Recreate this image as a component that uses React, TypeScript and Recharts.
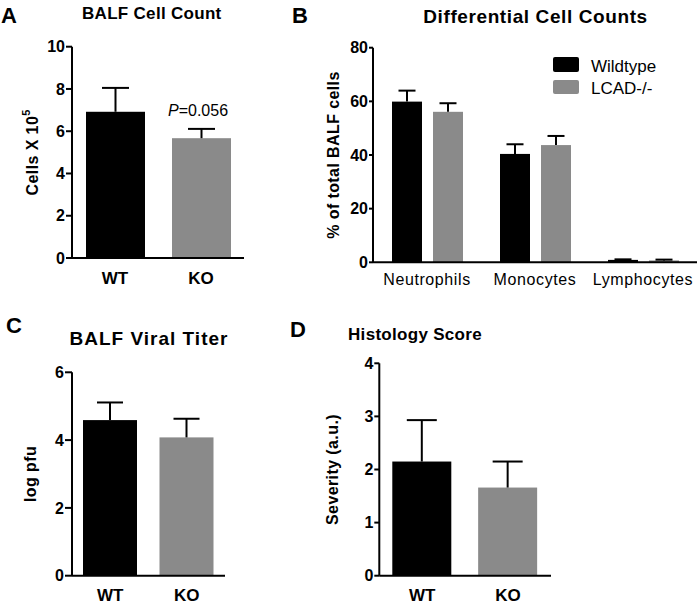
import React from 'react';
import { BarChart, Bar, XAxis, YAxis } from 'recharts';

const FONT = '"Liberation Sans", Arial, Helvetica, sans-serif';
const BLACK = '#000000';
const GREY = '#8a8a8a';

// A: BALF cell count
const aGroups = ['WT', 'KO'];
const aMeans = [6.92, 5.67];
const aSems = [1.13, 0.44];
const aTicks = [0, 2, 4, 6, 8, 10];

// B: differential cell counts
const bCells = ['Neutrophils', 'Monocytes', 'Lymphocytes'];
const bWildtype = [59.9, 40.4, 0.9];
const bWildtypeSem = [4.1, 3.6, 0.2];
const bLcad = [56.1, 43.7, 0.7];
const bLcadSem = [3.2, 3.4, 0.3];
const bTicks = [0, 20, 40, 60, 80];

// C: viral titer
const cGroups = ['WT', 'KO'];
const cMeans = [4.59, 4.08];
const cSems = [0.52, 0.55];
const cTicks = [0, 2, 4, 6];

// D: histology
const dGroups = ['WT', 'KO'];
const dMeans = [2.15, 1.66];
const dSems = [0.78, 0.49];
const dTicks = [0, 1, 2, 3, 4];

const groupColors = [BLACK, GREY];

// bar + upper error whisker, whisker length taken from the bar's own px/unit
function errorBarShape(meanKey: string, semKey: string, cap: number, colors: string[]) {
  return (props: any) => {
    const { x, y, width, height, index, payload } = props;
    const mean = payload[meanKey];
    const sem = payload[semKey];
    const perUnit = mean ? height / mean : 0;
    const cx = x + width / 2;
    const top = y - sem * perUnit;
    return (
      <g>
        <rect x={x} y={y} width={width} height={height} fill={colors[index % colors.length]} />
        <line x1={cx} x2={cx} y1={y} y2={top} stroke={BLACK} strokeWidth={2} />
        <line x1={cx - cap / 2} x2={cx + cap / 2} y1={top} y2={top} stroke={BLACK} strokeWidth={2} />
      </g>
    );
  };
}

function YTitle({ viewBox, x, text, sup, size = 16 }: any) {
  const cy = viewBox ? viewBox.y + viewBox.height / 2 : 150;
  return (
    <text
      x={x}
      y={cy}
      transform={`rotate(-90 ${x} ${cy})`}
      textAnchor="middle"
      dominantBaseline="central"
      fontFamily={FONT}
      fontWeight={700}
      fontSize={size}
      letterSpacing={0.4}
      fill={BLACK}
    >
      {text}
      {sup ? (
        <tspan dy={-7} fontSize={11}>
          {sup}
        </tspan>
      ) : null}
    </text>
  );
}

const axisLine = { stroke: BLACK, strokeWidth: 2 };
const boldTick = { fill: BLACK, fontSize: 16, fontWeight: 700, fontFamily: FONT };

interface PanelProps {
  groups: string[];
  means: number[];
  sems: number[];
  ticks: number[];
  width: number;
  height: number;
  top: number;
  right: number;
  yWidth: number;
  xHeight: number;
  barSize: number;
  cap: number;
  tickSize: number;
  xTickMargin: number;
  labelX: number;
  label: string;
  sup?: string;
}

function GroupPanel(p: PanelProps) {
  const data = p.groups.map((g, i) => ({ name: g, mean: p.means[i], sem: p.sems[i] }));
  return (
    <BarChart
      width={p.width}
      height={p.height}
      data={data}
      margin={{ top: p.top, right: p.right, left: 0, bottom: 0 }}
      barSize={p.barSize}
    >
      <XAxis
        dataKey="name"
        height={p.xHeight}
        axisLine={axisLine}
        tickLine={false}
        tickSize={0}
        tickMargin={p.xTickMargin}
        tick={{ ...boldTick, fontSize: 17 }}
      />
      <YAxis
        type="number"
        domain={[p.ticks[0], p.ticks[p.ticks.length - 1]]}
        ticks={p.ticks}
        interval={0}
        width={p.yWidth}
        axisLine={axisLine}
        tickLine={{ stroke: BLACK, strokeWidth: 2 }}
        tickSize={p.tickSize}
        tickMargin={1}
        tick={boldTick}
        label={{
          position: 'insideLeft',
          content: (lp: any) => <YTitle viewBox={lp.viewBox} x={p.labelX} text={p.label} sup={p.sup} />,
        }}
      />
      <Bar
        dataKey="mean"
        isAnimationActive={false}
        shape={errorBarShape('mean', 'sem', p.cap, groupColors)}
      />
    </BarChart>
  );
}

function DifferentialPanel() {
  const data = bCells.map((c, i) => ({
    name: c,
    wildtype: bWildtype[i],
    wildtypeSem: bWildtypeSem[i],
    lcad: bLcad[i],
    lcadSem: bLcadSem[i],
  }));
  return (
    <BarChart
      width={410}
      height={300}
      data={data}
      margin={{ top: 47.7, right: 3, left: 0, bottom: 0 }}
      barSize={30}
      barGap={11}
    >
      <XAxis
        dataKey="name"
        height={37.7}
        axisLine={axisLine}
        tickLine={false}
        tickSize={0}
        tickMargin={11}
        tick={{ fill: BLACK, fontSize: 16, fontWeight: 400, fontFamily: FONT, letterSpacing: 0.6 }}
      />
      <YAxis
        type="number"
        domain={[0, 80]}
        ticks={bTicks}
        interval={0}
        width={83}
        axisLine={axisLine}
        tickLine={{ stroke: BLACK, strokeWidth: 2 }}
        tickSize={4}
        tickMargin={1}
        tick={boldTick}
        label={{
          position: 'insideLeft',
          content: (lp: any) => <YTitle viewBox={lp.viewBox} x={43} text="% of total BALF cells" />,
        }}
      />
      <Bar
        dataKey="wildtype"
        isAnimationActive={false}
        shape={errorBarShape('wildtype', 'wildtypeSem', 17, [BLACK])}
      />
      <Bar
        dataKey="lcad"
        isAnimationActive={false}
        shape={errorBarShape('lcad', 'lcadSem', 17, [GREY])}
      />
    </BarChart>
  );
}

export default function App() {
  const title = { fontFamily: FONT, fontWeight: 700, fill: BLACK } as const;
  return (
    <div style={{ position: 'absolute', left: 0, top: 0, width: 700, height: 605, background: '#fff' }}>
      <div style={{ position: 'absolute', left: 0, top: 0 }}>
        <GroupPanel
          groups={aGroups}
          means={aMeans}
          sems={aSems}
          ticks={aTicks}
          width={260}
          height={300}
          top={46.7}
          right={16}
          yWidth={72}
          xHeight={42}
          barSize={59}
          cap={27}
          tickSize={6}
          xTickMargin={14}
          labelX={33}
          label="Cells X 10"
          sup="5"
        />
      </div>
      <div style={{ position: 'absolute', left: 290, top: 0 }}>
        <DifferentialPanel />
      </div>
      <div style={{ position: 'absolute', left: 0, top: 310 }}>
        <GroupPanel
          groups={cGroups}
          means={cMeans}
          sems={cSems}
          ticks={cTicks}
          width={250}
          height={295}
          top={62.3}
          right={25}
          yWidth={72}
          xHeight={29.3}
          barSize={54}
          cap={26}
          tickSize={7}
          xTickMargin={13}
          labelX={30}
          label="log pfu"
        />
      </div>
      <div style={{ position: 'absolute', left: 290, top: 310 }}>
        <GroupPanel
          groups={dGroups}
          means={dMeans}
          sems={dSems}
          ticks={dTicks}
          width={270}
          height={295}
          top={53.3}
          right={9}
          yWidth={89.3}
          xHeight={29.3}
          barSize={59}
          cap={30}
          tickSize={5}
          xTickMargin={13}
          labelX={42}
          label="Severity (a.u.)"
        />
      </div>
      <svg
        width={700}
        height={605}
        style={{ position: 'absolute', left: 0, top: 0, pointerEvents: 'none' }}
      >
        <text x={1} y={22.7} fontSize={22} {...title}>A</text>
        <text x={292} y={23.3} fontSize={22} {...title}>B</text>
        <text x={6} y={333} fontSize={22} {...title}>C</text>
        <text x={290} y={337} fontSize={22} {...title}>D</text>

        <text x={82} y={19.3} fontSize={17} letterSpacing={0.3} {...title}>BALF Cell Count</text>
        <text x={535.5} y={22.7} fontSize={19} letterSpacing={0.6} textAnchor="middle" {...title}>
          Differential Cell Counts
        </text>
        <text x={149} y={345} fontSize={19} letterSpacing={1} textAnchor="middle" {...title}>
          BALF Viral Titer
        </text>
        <text x={415} y={340} fontSize={17} letterSpacing={0.3} textAnchor="middle" {...title}>
          Histology Score
        </text>

        <text x={198} y={115.7} fontSize={16} textAnchor="middle" fontFamily={FONT} fill={BLACK}>
          <tspan fontStyle="italic">P</tspan>=0.056
        </text>

        <rect x={553} y={57} width={26} height={15} rx={2} fill={BLACK} />
        <text x={591} y={71.7} fontSize={17} fontFamily={FONT} fill={BLACK}>Wildtype</text>
        <rect x={553} y={80} width={26} height={14} rx={2} fill={GREY} />
        <text x={591} y={94.3} fontSize={17} fontFamily={FONT} fill={BLACK}>LCAD-/-</text>
      </svg>
    </div>
  );
}
